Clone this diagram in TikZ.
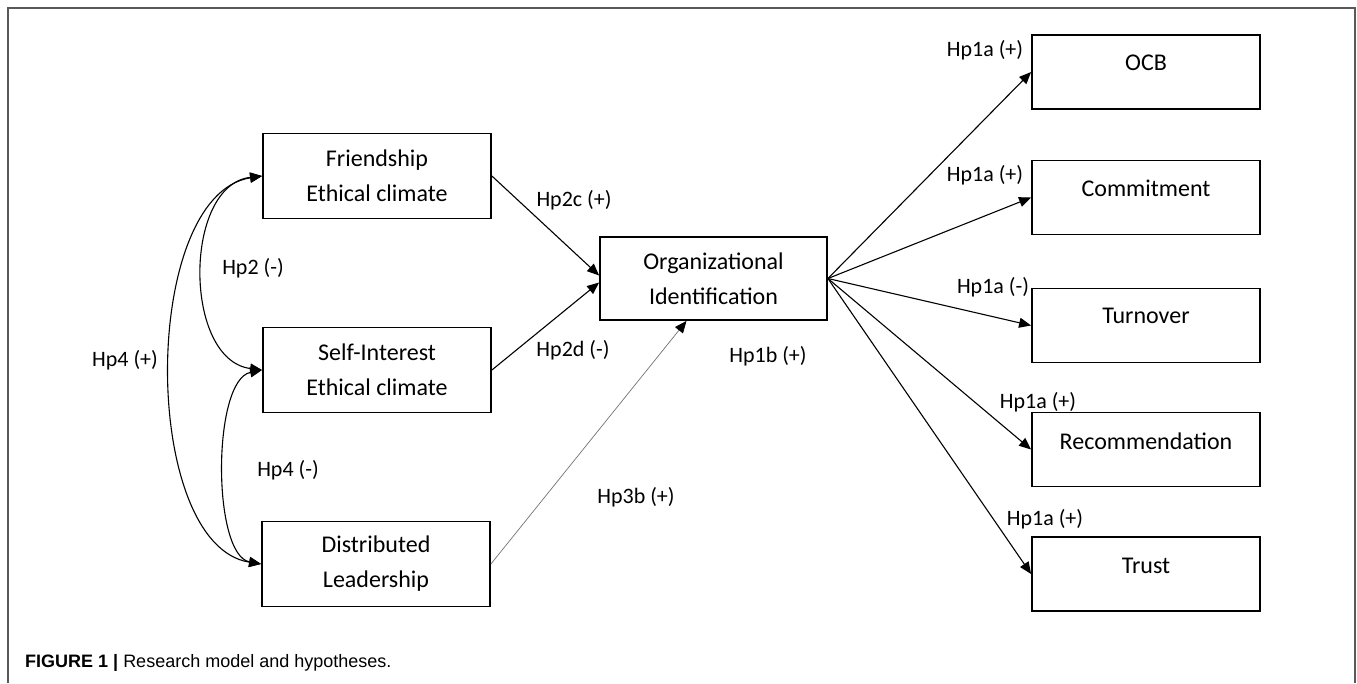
\documentclass[tikz,border=0pt]{standalone}
\usepackage{fontspec}
\setmainfont{Carlito}
\newfontfamily\capfont{Liberation Sans}
\usetikzlibrary{arrows.meta,calc}
\begin{document}
\begin{tikzpicture}[x=1pt,y=-1pt,
  box/.style={draw=black, line width=1.8pt, minimum width=228pt, inner sep=0pt},
  lbox/.style={box, minimum height=85pt, align=center, font=\fontsize{24}{35}\selectfont},
  rbox/.style={box, minimum height=74pt},
  btxt/.style={font=\fontsize{24}{35}\selectfont, inner sep=0pt},
  lbl/.style={font=\fontsize{22}{26}\selectfont, inner sep=0pt},
  arr/.style={line width=1.1pt, -{Triangle[length=12pt,width=10pt]}},
  arr2/.style={line width=1.1pt, {Triangle[length=12pt,width=10pt]}-{Triangle[length=12pt,width=10pt]}},
  frame/.style={draw=black!65, line width=1.3pt}
]
\useasboundingbox (0,0) rectangle (1357,683);
\draw[frame] (8,683) -- (8,8) -- (1355,8) -- (1355,683);

% left boxes
\node[lbox] (fr) at (377,176) {Friendship\\Ethical climate};
\node[lbox] (si) at (377,370) {Self-Interest\\Ethical climate};
\node[lbox] (dl) at (376,564) {Distributed\\Leadership};
\node[lbox, minimum width=227pt, minimum height=83pt] (org) at (713.5,278.5) {Organizational\\Identification};

% right boxes
\node[rbox] (ocb) at (1146,72) {};
\node[btxt] (ocbt) at (1146,63) {OCB};
\node[rbox] (com) at (1146,197.5) {};
\node[btxt] (comt) at (1146,188) {Commitment};
\node[rbox] (tur) at (1146,325.5) {};
\node[btxt] (turt) at (1146,316) {Turnover};
\node[rbox] (rec) at (1146,449.5) {};
\node[btxt] (rect) at (1146,441) {Recommendation};
\node[rbox] (tru) at (1146,574) {};
\node[btxt] (trut) at (1146,566) {Trust};

% correlations
\draw[arr2] (fr.west) .. controls (140,195) and (140,545) .. (dl.west);
\draw[arr2] (fr.west) .. controls (183,185) and (183,360) .. (si.west);
\draw[arr2] (si.west) .. controls (212,380) and (212,555) .. (dl.west);

% paths to org
\draw[arr] (fr.east) -- ($(org.west)+(0,-3)$);
\draw[arr] (si.east) -- ($(org.west)+(0,4)$);
\draw[line width=0.7pt, draw=black!55, -{Triangle[length=12pt,width=10pt,color=black]}] (dl.east) -- ($(org.south)+(-27,0)$);

% fan out
\draw[arr] (org.east) -- (ocb.west);
\draw[arr] (org.east) -- (com.west);
\draw[arr] (org.east) -- (tur.west);
\draw[arr] (org.east) -- (rec.west);
\draw[arr] (org.east) -- (tru.west);

% labels
\node[lbl] (l1) at (985,50) {Hp1a (+)};
\node[lbl] (l2) at (985,175) {Hp1a (+)};
\node[lbl] (l3) at (993,287) {Hp1a (-)};
\node[lbl] (l4) at (1038,402) {Hp1a (+)};
\node[lbl] (l5) at (1045,519) {Hp1a (+)};
\node[lbl] (l6) at (574,200) {Hp2c (+)};
\node[lbl] (l7) at (573,350) {Hp2d (-)};
\node[lbl] (l8) at (768,356) {Hp1b (+)};
\node[lbl] (l9) at (636,497) {Hp3b (+)};
\node[lbl] (l10) at (253,268) {Hp2 (-)};
\node[lbl] (l11) at (125,360) {Hp4 (+)};
\node[lbl] (l12) at (288,470) {Hp4 (-)};

% caption
\node[anchor=base west, inner sep=0pt, font=\capfont\fontsize{18}{20}\selectfont] (cap) at (25,667)
  {\textbf{FIGURE 1 |} Research model and hypotheses.};
\end{tikzpicture}
\end{document}
